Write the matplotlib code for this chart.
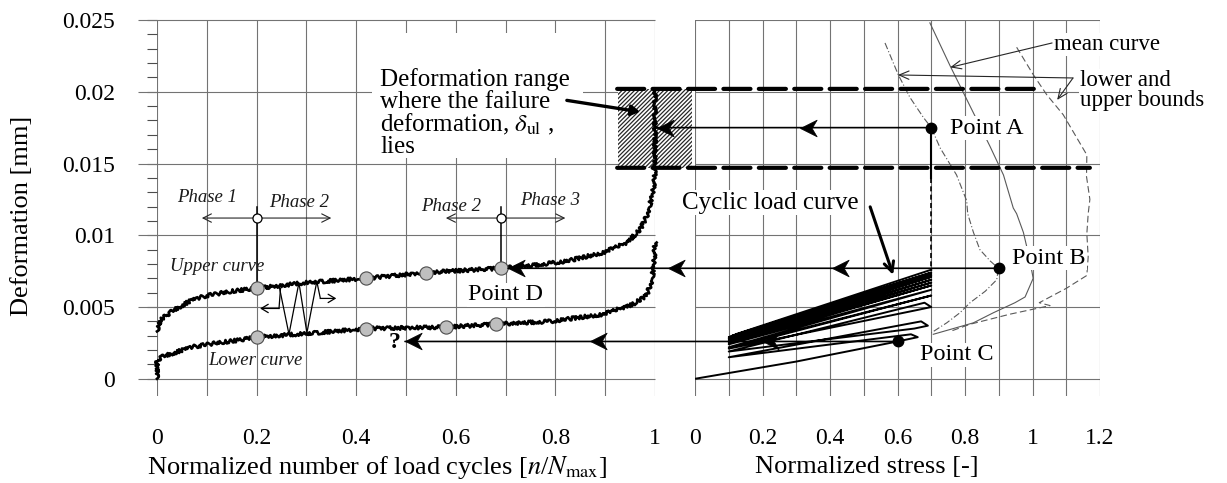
import matplotlib
matplotlib.use('Agg')
import matplotlib.pyplot as plt
from matplotlib.patches import Rectangle, ConnectionPatch
from matplotlib.path import Path

plt.rcParams['font.family'] = ['Liberation Serif', 'DejaVu Serif']
plt.rcParams['mathtext.fontset'] = 'stix'
plt.rcParams['hatch.linewidth'] = 0.9

# ---- left panel: deformation vs normalized number of cycles ----
cyc_upper = [0, 0.003, 0.01, 0.03, 0.05, 0.07, 0.1, 0.15, 0.2, 0.3, 0.42, 0.54, 0.69,
             0.755, 0.823, 0.896, 0.944, 0.97, 0.983, 0.995, 0.9995, 1.0, 1.0]
def_upper = [0.0033, 0.0038, 0.0042, 0.0047, 0.0051, 0.0055, 0.0058, 0.0061, 0.0063,
             0.0067, 0.0070, 0.0074, 0.0077, 0.0079, 0.0082, 0.0088, 0.0095, 0.0104,
             0.0113, 0.0128, 0.0140, 0.0150, 0.0202]
cyc_lower = [0, 0.0, 0.007, 0.034, 0.067, 0.12, 0.167, 0.2, 0.32, 0.42, 0.58, 0.68,
             0.79, 0.896, 0.956, 0.983, 0.994, 0.998, 1.0]
def_lower = [0, 0.0012, 0.0015, 0.0018, 0.0022, 0.0025, 0.0027, 0.0029, 0.0032, 0.0035,
             0.0036, 0.0038, 0.0040, 0.0045, 0.0052, 0.0058, 0.0069, 0.0081, 0.0095]

upper_pts_x = [0.2, 0.42, 0.54, 0.69]
upper_pts_y = [0.0063, 0.0070, 0.0074, 0.0077]
lower_pts_x = [0.2, 0.42, 0.58, 0.68]
lower_pts_y = [0.0029, 0.0035, 0.0036, 0.0038]

zigzag_x = [0.245, 0.265, 0.285, 0.301, 0.321]
zigzag_y = [0.0065, 0.0031, 0.0067, 0.0032, 0.0068]

# phase markers: (centre, left end, right end)
phase_x = [0.2, 0.69]
phase_left = [0.09, 0.58]
phase_right = [0.35, 0.82]
phase_y = 0.0112
phase_top = [0.0120, 0.0120]
phase_bottom = [0.0063, 0.0077]

# ---- right panel: deformation vs normalized stress ----
cyc_stress = [0, 0.3, 0.6, 0.66, 0.64, 0.1, 0.67, 0.69, 0.65, 0.1, 0.68, 0.7, 0.66, 0.1,
              0.7, 0.1, 0.7, 0.1, 0.7, 0.1, 0.7, 0.1, 0.7, 0.1, 0.7, 0.1, 0.7, 0.1,
              0.7, 0.11, 0.7, 0.12, 0.7]
cyc_def = [0, 0.0012, 0.0026, 0.0029, 0.0031, 0.0015, 0.0040, 0.0037, 0.0035, 0.0019,
           0.0053, 0.0050, 0.0048, 0.0021, 0.0058, 0.0022, 0.0062, 0.0024, 0.0065, 0.0025,
           0.0067, 0.0026, 0.0069, 0.0027, 0.0071, 0.0028, 0.0072, 0.0029, 0.0073, 0.0030,
           0.0074, 0.0031, 0.0076]

lower_bound_s = [0.563, 0.602, 0.637, 0.677, 0.70, 0.726, 0.775, 0.805, 0.808, 0.825,
                 0.844, 0.875, 0.899, 0.894, 0.86, 0.815, 0.785, 0.746, 0.70]
lower_bound_d = [0.0234, 0.0212, 0.0196, 0.0182, 0.0175, 0.0161, 0.0142, 0.0124, 0.0115,
                 0.0102, 0.0090, 0.0082, 0.0077, 0.0069, 0.0061, 0.0053, 0.0046, 0.0039,
                 0.0032]
mean_s = [0.696, 0.756, 0.815, 0.874, 0.914, 0.943, 0.953, 0.973, 0.99, 1.002, 0.978,
          0.948, 0.884, 0.825, 0.706]
mean_d = [0.0248, 0.0218, 0.0190, 0.0162, 0.0142, 0.0119, 0.0115, 0.0102, 0.0085, 0.0070,
          0.0057, 0.0053, 0.0046, 0.0039, 0.0031]
upper_bound_s = [0.953, 1.002, 1.042, 1.091, 1.131, 1.161, 1.16, 1.17, 1.165, 1.161,
                 1.165, 1.161, 1.10, 1.02, 1.052, 0.933, 0.815, 0.756]
upper_bound_d = [0.0231, 0.0212, 0.0198, 0.0184, 0.0168, 0.0156, 0.0141, 0.0125, 0.0115,
                 0.0101, 0.0085, 0.0072, 0.0063, 0.0053, 0.0051, 0.0045, 0.0038, 0.0033]

# points A, B, C (stress, deformation) and where their projections end on the left
point_s = [0.7, 0.9, 0.6]
point_d = [0.0175, 0.0077, 0.0026]
proj_end = [1.0, 0.705, 0.498]
heads_left_x = [1.004, 1.026, 0.705, 0.87, 0.498]
heads_left_y = [0.0175, 0.0077, 0.0077, 0.0026, 0.0026]
heads_right_x = [0.31, 0.405, 0.198]
heads_right_y = [0.0175, 0.0077, 0.0026]

fail_lo, fail_hi = 0.0147, 0.0202

y_major = [0, 0.005, 0.01, 0.015, 0.02, 0.025]
y_labels = ['0', '0.005', '0.01', '0.015', '0.02', '0.025']
y_minor = [i / 1000 for i in range(26)]
xl_major = [0, 0.2, 0.4, 0.6, 0.8, 1.0]
xl_labels = ['0', '0.2', '0.4', '0.6', '0.8', '1']
xl_minor = [i / 10 for i in range(11)]
xr_major = [0, 0.2, 0.4, 0.6, 0.8, 1.0, 1.2]
xr_labels = ['0', '0.2', '0.4', '0.6', '0.8', '1', '1.2']
xr_minor = [i / 10 for i in range(13)]

W, H = 1227, 483
fig = plt.figure(figsize=(W / 100, H / 100), dpi=100)
ax1 = fig.add_axes([157 / W, (H - 396) / H, 498 / W, 376 / H])
ax2 = fig.add_axes([695 / W, (H - 396) / H, 405 / W, 376 / H])

grid_kw = dict(color='0.45', lw=0.8)
for ax in (ax1, ax2):
    ax.set_facecolor('none')
    for sp in ax.spines.values():
        sp.set_visible(False)
    ax.set_ylim(-0.0012, 0.025)
    ax.set_axisbelow(True)

ax1.set_xlim(0, 1)
ax2.set_xlim(0, 1.2)

# left axes ticks / grid
ax1.set_yticks(y_major)
ax1.set_yticklabels(y_labels)
ax1.set_yticks(y_minor, minor=True)
ax1.tick_params(axis='y', which='both', direction='out', length=7, width=0.8,
                color='0.3', pad=23, labelsize=17)
ax1.set_xticks(xl_major)
ax1.set_xticklabels(xl_labels)
ax1.set_xticks(xl_minor, minor=True)
ax1.tick_params(axis='x', which='both', length=0, pad=23, labelsize=17)
ax1.grid(axis='x', which='both', **grid_kw)
ax1.hlines(y_major, -0.038, 1.0, clip_on=False, zorder=0.6, **grid_kw)

# right axes ticks / grid
ax2.set_yticks(y_major)
ax2.tick_params(axis='y', left=False, labelleft=False)
ax2.set_xticks(xr_major)
ax2.set_xticklabels(xr_labels)
ax2.set_xticks(xr_minor, minor=True)
ax2.tick_params(axis='x', which='both', length=0, pad=23, labelsize=17)
ax2.grid(axis='x', which='both', **grid_kw)
ax2.grid(axis='y', which='major', **grid_kw)

ax1.set_xlabel(r'Normalized number of load cycles [$n$/$N_{\mathrm{max}}$]', fontsize=19)
ax1.xaxis.set_label_coords(0.441, -0.19)
ax1.xaxis.label.set_va('center')
ax2.set_xlabel('Normalized stress [-]', fontsize=19)
ax2.xaxis.set_label_coords(0.425, -0.19)
ax2.xaxis.label.set_va('center')
ax1.set_ylabel('Deformation [mm]', fontsize=19)
ax1.yaxis.set_label_coords(-0.271, 0.48)
ax1.yaxis.label.set_va('center')

# ---- left panel drawing ----
for xs, ys in ((cyc_upper, def_upper), (cyc_lower, def_lower)):
    ln, = ax1.plot(xs, ys, color='k', lw=1.9, zorder=3, clip_on=False)
    ln.set_sketch_params(scale=1.8, length=2.5, randomness=4)

ax1.plot(zigzag_x, zigzag_y, color='k', lw=0.9, zorder=3)
ax1.plot([0.248, 0.245], [0.0063, 0.0049], color='k', lw=0.9, zorder=3)
ax1.annotate('', xy=(0.207, 0.0049), xytext=(0.245, 0.0049),
             arrowprops=dict(arrowstyle='->,head_length=0.5,head_width=0.3', lw=0.9,
                             color='k', shrinkA=0, shrinkB=0))
ax1.plot([0.322, 0.328], [0.0066, 0.0056], color='k', lw=0.9, zorder=3)
ax1.annotate('', xy=(0.36, 0.0056), xytext=(0.328, 0.0056),
             arrowprops=dict(arrowstyle='->,head_length=0.5,head_width=0.3', lw=0.9,
                             color='k', shrinkA=0, shrinkB=0))

for i in range(len(phase_x)):
    ax1.plot([phase_x[i], phase_x[i]], [phase_top[i], phase_bottom[i]], color='k', lw=1.1, zorder=3)
    for end in (phase_left[i], phase_right[i]):
        ax1.annotate('', xy=(end, phase_y), xytext=(phase_x[i], phase_y),
                     arrowprops=dict(arrowstyle='->,head_length=0.6,head_width=0.3', lw=0.8,
                                     color='0.15', shrinkA=0, shrinkB=0))
ax1.plot(phase_x, [phase_y] * len(phase_x), 'o', ms=6.5, mfc='white', mec='k', mew=0.9, zorder=5)

ax1.plot(upper_pts_x, upper_pts_y, 'o', ms=9.5, mfc='0.75', mec='0.3', mew=0.8, zorder=5)
ax1.plot(lower_pts_x, lower_pts_y, 'o', ms=9.5, mfc='0.75', mec='0.3', mew=0.8, zorder=5)

ph_kw = dict(fontsize=13.5, style='italic', ha='center', va='center', color='0.1')
ax1.text(0.10, 0.0126, 'Phase 1', **ph_kw)
ax1.text(0.285, 0.0123, 'Phase 2', **ph_kw)
ax1.text(0.59, 0.0120, 'Phase 2', **ph_kw)
ax1.text(0.79, 0.0124, 'Phase 3', **ph_kw)
ax1.text(0.12, 0.0078, 'Upper curve', **ph_kw)
ax1.text(0.198, 0.0013, 'Lower curve', **ph_kw)
ax1.text(0.625, 0.00585, 'Point D', fontsize=17.5, ha='left', va='center', zorder=6,
         bbox=dict(facecolor='white', edgecolor='none', pad=1))
ax1.text(0.476, 0.0025, '?', fontsize=17, fontweight='bold', ha='center', va='center')

# deformation range text block
ax1.add_patch(Rectangle((0.432, 0.0154), 0.423, 0.0087, facecolor='white',
                        edgecolor='none', zorder=1))
range_lines = ['Deformation range', 'where the failure',
               r'deformation, $\delta_{\mathrm{ul}}$ ,', 'lies']
range_y = [0.02082, 0.01929, 0.01769, 0.01616]
for txt, yy in zip(range_lines, range_y):
    ax1.text(0.448, yy, txt, fontsize=18, ha='left', va='center', zorder=6)
ax1.annotate('', xy=(0.97, 0.0186), xytext=(0.823, 0.0194),
             arrowprops=dict(arrowstyle='-|>,head_length=0.5,head_width=0.3', lw=2.4,
                             color='k', shrinkA=0, shrinkB=0), zorder=7)

# hatched failure range box (spans into the gap)
ax1.add_patch(Rectangle((0.926, fail_lo), 0.148, fail_hi - fail_lo, facecolor='white',
                        edgecolor='0.15', hatch='////////', lw=0, clip_on=False, zorder=2))

# ---- right panel drawing ----
ax2.plot(lower_bound_s, lower_bound_d, color='0.35', lw=0.8, ls=(0, (6, 2, 1, 2)), zorder=3)
ax2.plot(mean_s, mean_d, color='0.35', lw=0.8, zorder=3)
ax2.plot(upper_bound_s, upper_bound_d, color='0.35', lw=0.8, ls=(0, (6, 3)), zorder=3)
ax2.plot(cyc_stress, cyc_def, color='k', lw=1.4, zorder=4)

ax2.plot([0.7, 0.7], [0.0175, 0.0140], color='k', lw=1.5, zorder=3)
ax2.plot([0.7, 0.7], [0.0140, 0.0075], color='k', lw=1.2, ls=(0, (3, 2)), zorder=3)

ax2.plot(point_s, point_d, 'o', color='k', ms=7.5, zorder=6)
ax2.text(0.756, 0.01746, 'Point A', fontsize=17.5, ha='left', va='center', zorder=6,
         bbox=dict(facecolor='white', edgecolor='none', pad=1))
ax2.text(0.938, 0.00841, 'Point B', fontsize=17.5, ha='left', va='center', zorder=6,
         bbox=dict(facecolor='white', edgecolor='none', pad=1))
ax2.text(0.667, 0.00167, 'Point C', fontsize=17.5, ha='left', va='center', zorder=6,
         bbox=dict(facecolor='white', edgecolor='none', pad=1))

ax2.text(0.222, 0.01225, 'Cyclic load curve', fontsize=18, ha='center', va='center',
         zorder=6, bbox=dict(facecolor='white', edgecolor='none', pad=1))
ax2.annotate('', xy=(0.587, 0.00724), xytext=(0.519, 0.01198),
             arrowprops=dict(arrowstyle='->,head_length=0.7,head_width=0.35', lw=2.2,
                             color='k', shrinkA=0, shrinkB=0), zorder=7)

ax2.text(1.065, 0.0233, 'mean curve', fontsize=16.5, ha='left', va='center', zorder=6,
         bbox=dict(facecolor='white', edgecolor='none', pad=1))
ax2.annotate('', xy=(0.756, 0.0217), xytext=(1.058, 0.0234),
             arrowprops=dict(arrowstyle='->,head_length=0.7,head_width=0.3', lw=0.8,
                             color='0.15', shrinkA=0, shrinkB=0))
ax2.text(1.141, 0.0201, 'lower and\nupper bounds', fontsize=16.5, ha='left', va='center',
         linespacing=0.9, zorder=6, bbox=dict(facecolor='white', edgecolor='none', pad=1))
for tip in ((0.601, 0.02117), (1.073, 0.01943)):
    ax2.annotate('', xy=tip, xytext=(1.12, 0.02096),
                 arrowprops=dict(arrowstyle='->,head_length=0.7,head_width=0.3', lw=0.8,
                                 color='0.15', shrinkA=0, shrinkB=0))

# ---- lines crossing both panels ----
for s, d, end in zip(point_s, point_d, proj_end):
    con = ConnectionPatch(xyA=(s, d), coordsA='data', axesA=ax2,
                          xyB=(end, d), coordsB='data', axesB=ax1,
                          color='k', lw=1.2, zorder=5)
    fig.add_artist(con)

for y0, x_end in ((fail_hi, 1.027), (fail_lo, 1.17)):
    con = ConnectionPatch(xyA=(0.924, y0), coordsA='data', axesA=ax1,
                          xyB=(x_end, y0), coordsB='data', axesB=ax2,
                          color='k', lw=3.0, ls=(0, (6.5, 2.0)), zorder=5)
    fig.add_artist(con)

head = Path([(0, 0), (1, 0.5), (0.7, 0), (1, -0.5), (0, 0)],
            [Path.MOVETO, Path.LINETO, Path.LINETO, Path.LINETO, Path.CLOSEPOLY])
ax1.plot(heads_left_x, heads_left_y, ls='none', marker=head, ms=24, color='k',
         mew=0.5, clip_on=False, zorder=8)
ax2.plot(heads_right_x, heads_right_y, ls='none', marker=head, ms=24, color='k',
         mew=0.5, clip_on=False, zorder=8)

fig.savefig('out.png', dpi=100)
